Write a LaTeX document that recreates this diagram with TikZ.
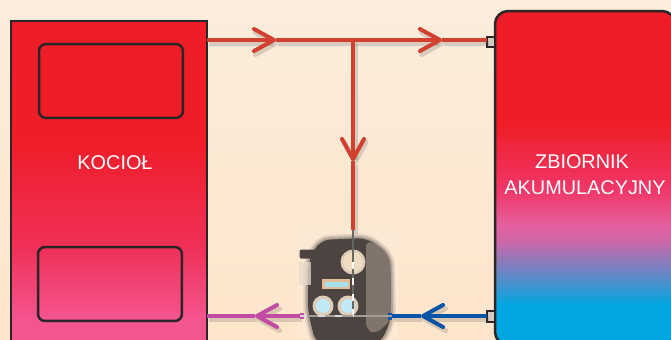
\documentclass[tikz,border=0pt]{standalone}
\usepackage{fontspec}
\setmainfont{Liberation Sans}
\usetikzlibrary{arrows.meta}
\definecolor{boilerpink}{HTML}{F4558F}
\definecolor{boilermid}{HTML}{F03058}
\definecolor{hotred}{HTML}{EF1D27}
\definecolor{tankblue}{HTML}{00A7E0}
\definecolor{tankpink}{HTML}{D065A8}
\definecolor{tankrose}{HTML}{E4609F}
\definecolor{tankmid}{HTML}{F0386A}
\definecolor{edgeblack}{HTML}{2A2526}
\definecolor{pagetop}{HTML}{FBECDC}
\definecolor{pagebot}{HTML}{FDE5CB}
\definecolor{hotpipecol}{HTML}{D2402F}
\definecolor{coldpipecol}{HTML}{0B55A8}
\definecolor{mixpipecol}{HTML}{C24BA3}
\definecolor{pumpdark}{HTML}{4C4441}
\pgfdeclareverticalshading{boilerfill}{100bp}{color(0bp)=(boilerpink); color(29bp)=(boilerpink); color(40bp)=(boilermid); color(57bp)=(hotred); color(100bp)=(hotred)}
\pgfdeclareverticalshading{tankfill}{100bp}{color(0bp)=(tankblue); color(31bp)=(tankblue); color(40.7bp)=(tankpink); color(43bp)=(tankrose); color(48bp)=(tankmid); color(58bp)=(hotred); color(100bp)=(hotred)}
\tikzset{
	heater/.style={draw=edgeblack,line width=.05cm,rectangle,anchor=north west,inner sep=0pt,outer sep=0pt},
	chamber/.style={draw=edgeblack,line width=.05cm,rectangle,rounded corners=.14cm,anchor=north west,inner sep=0pt,outer sep=0pt,minimum width=2.88cm,minimum height=1.48cm},
	port/.style={draw=edgeblack,line width=.04cm,fill=pagetop!70!gray,inner sep=0pt,outer sep=0pt,minimum width=.15cm,minimum height=.21cm},
	caption/.style={text=white,font=\fontsize{11.3}{14.8}\selectfont,align=center},
	pipe/.style={line width=.08cm,preaction={draw=black!70,opacity=.2,line width=.1cm,transform canvas={xshift=.04cm,yshift=-.07cm}}},
	barb/.style={-{Straight Barb[length=.4cm,width=.44cm,round]}},
	gauge/.style={circle,fill=#1,inner sep=0pt},
	pumpshell/.style={fill=pumpdark,rounded corners=.2cm}
}
\def\pumpoutline{(320,240) -- (368,238) -- (390,256) -- (391,320) -- (380,344) -- (316,344) -- (308,312) -- (308,262) -- cycle}
\begin{document}
\begin{tikzpicture}[x=.02cm,y=-.02cm]
	\useasboundingbox (0,0) rectangle (671,339);
	\clip (0,0) rectangle (671,339);
	%paper
	\fill[top color=pagetop,bottom color=pagebot] (0,0) rectangle (671,339);
	%boiler
	\node[heater,shading=boilerfill,minimum width=3.92cm,minimum height=6.48cm] (boiler) at (11,21) {};
	\node[chamber] (upperchamber) at (39,44) {};
	\node[chamber] (lowerchamber) at (38,247) {};
	\node[caption] (boilertext) at (115,163) {KOCIOŁ};
	%tank
	\node[heater,shading=tankfill,rounded corners=.26cm,minimum width=3.6cm,minimum height=6.68cm] (tank) at (495,11) {};
	\node[caption] (tanktext) at (585,175) {\hspace*{-.12cm}ZBIORNIK\\AKUMULACYJNY};
	\node[port] (hotport) at (491,42) {};
	\node[port] (coldport) at (491,316.5) {};
	%pump
	\node[fill=white,opacity=.12,inner sep=0pt,minimum width=2.02cm,minimum height=2.2cm] (pumpbox) at (347.5,284) {};
	\foreach \halo/\shade in {.2/.1,.14/.15,.08/.25}
		\draw[pumpshell,opacity=\shade,draw=pumpdark,line width=\halo cm] \pumpoutline;
	\fill[pumpshell] \pumpoutline;
	\fill[fill=pumpdark!70!pagebot,rounded corners=.14cm] (366,240) -- (380,246) -- (390,258) -- (391,320) -- (376,334) -- (366,330) -- cycle;
	\node[fill=pumpdark,rounded corners=.03cm,inner sep=0pt,minimum width=.34cm,minimum height=.18cm] (pumplug) at (308,254) {};
	\node[fill=pagetop!85!gray,opacity=.75,inner sep=0pt,minimum width=.24cm,minimum height=.46cm] (pumpside) at (305,273) {};
	\node[gauge=pagebot!75!gray,minimum size=.5cm] (topgaugerim) at (353,262) {};
	\node[gauge=pagebot!90!gray,minimum size=.4cm] (topgauge) at (353,262) {};
	\node[gauge=pagebot!75!gray,minimum size=.42cm] (leftrim) at (323,306) {};
	\node[gauge=pagebot!75!gray,minimum size=.42cm] (rightrim) at (348,306) {};
	\node[gauge=tankblue!25!white,minimum size=.28cm] (leftdial) at (323,306) {};
	\node[gauge=tankblue!25!white,minimum size=.28cm] (rightdial) at (348,306) {};
	\node[fill=pagebot!60!brown,inner sep=0pt,minimum width=.56cm,minimum height=.2cm] (pumplabelrim) at (336,284) {};
	\node[fill=tankblue!35!white,inner sep=0pt,minimum width=.46cm,minimum height=.1cm] (pumplabel) at (336,284) {};
	%joints on the pump
	\coordinate (pumptop) at (353,230);
	\coordinate (pumpeast) at (392,316);
	\coordinate (pumpwest) at (300,316);
	\coordinate (tee) at (353,40);
	\coordinate (hotout) at (207,40);
	\coordinate (hotin) at (hotport.west |- tee);
	\coordinate (coldin) at (coldport.west |- pumpeast);
	\coordinate (mixin) at (207,316);
	\coordinate (hotarrowa) at (276,40);
	\coordinate (hotarrowb) at (442,40);
	\coordinate (hotarrowc) at (353,161);
	\coordinate (coldarrow) at (421,316);
	\coordinate (mixarrow) at (255,316);
	%pipes
	\draw[pipe,hotpipecol,barb] (hotout) -- (hotarrowa);
	\draw[pipe,hotpipecol] (hotarrowa) -- (tee);
	\draw[pipe,hotpipecol,barb] (tee) -- (hotarrowb);
	\draw[pipe,hotpipecol] (hotarrowb) -- (hotin);
	\draw[pipe,hotpipecol,barb] (tee) -- (hotarrowc);
	\draw[pipe,hotpipecol] (hotarrowc) -- (pumptop);
	\draw[pipe,coldpipecol,barb] (coldin) -- (coldarrow);
	\draw[pipe,coldpipecol] (coldarrow) -- (pumpeast);
	\draw[pipe,mixpipecol,barb] (pumpwest) -- (mixarrow);
	\draw[pipe,mixpipecol] (mixarrow) -- (mixin);
	%stubs
	\draw[line width=.14cm,coldpipecol] (pumpeast) -- ++(-4,0) coordinate (coldstub);
	\draw[line width=.11cm,mixpipecol] (pumpwest) -- ++(4,0) coordinate (mixstub);
	%lines through the pump
	\draw[line width=.05cm,black!60] (pumptop) -- (353,316) coordinate (pumpcorner);
	\draw[line width=.05cm,white!85!pagebot,dash pattern=on 4pt off 5pt] (353,262) -- (pumpcorner);
	\draw[line width=.04cm,gray!70!pagebot] (pumpwest) -- (pumpeast);
	\draw[line width=.04cm,white!85!black,dash pattern=on 4pt off 6pt] (pumpwest) -- (pumpcorner);
\end{tikzpicture}
\end{document}
